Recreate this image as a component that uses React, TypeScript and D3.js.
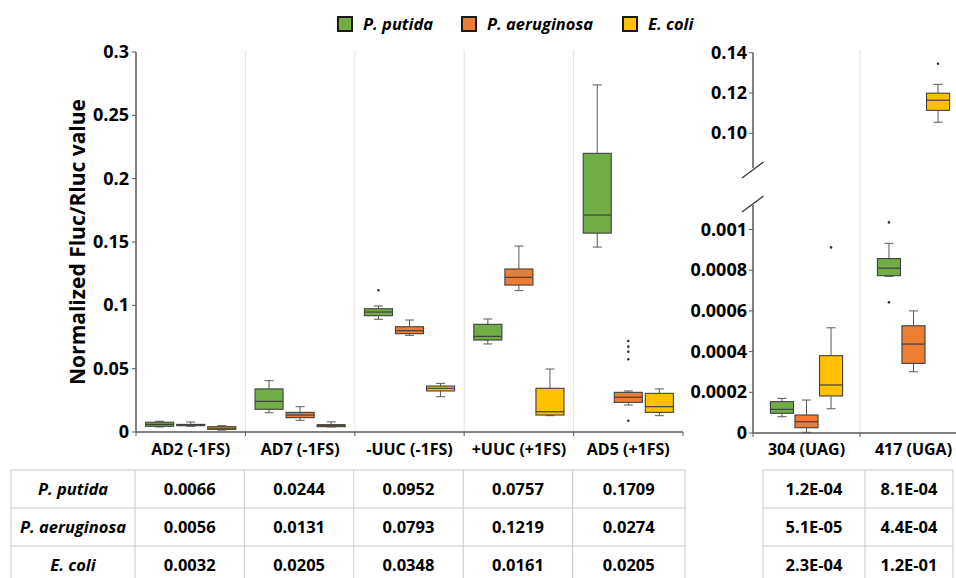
import React from "react";
import * as d3 from "d3";

const categoriesLeft = ["AD2 (-1FS)", "AD7 (-1FS)", "-UUC (-1FS)", "+UUC (+1FS)", "AD5 (+1FS)"];
const categoriesRight = ["304 (UAG)", "417 (UGA)"];
const species = ["P. putida", "P. aeruginosa", "E. coli"];
const speciesColors = ["#70AD47", "#ED7D31", "#FFC000"];

// [min, q1, median, q3, max]
const putidaLeft = [
  [0.004, 0.0045, 0.006, 0.0077, 0.0085],
  [0.0152, 0.0179, 0.0242, 0.034, 0.0405],
  [0.089, 0.0918, 0.0947, 0.0973, 0.0995],
  [0.0695, 0.0726, 0.0755, 0.085, 0.0892],
  [0.146, 0.157, 0.1713, 0.22, 0.274],
];
const aeruginosaLeft = [
  [0.0045, 0.005, 0.0055, 0.006, 0.0079],
  [0.0092, 0.0113, 0.0134, 0.0155, 0.02],
  [0.0763, 0.0776, 0.08, 0.0831, 0.0884],
  [0.1116, 0.116, 0.1221, 0.1287, 0.1468],
  [0.0213, 0.0234, 0.0274, 0.0313, 0.0324],
];
const coliLeft = [
  [0.0015, 0.0021, 0.003, 0.0042, 0.005],
  [0.004, 0.0042, 0.005, 0.0058, 0.008],
  [0.0279, 0.0324, 0.0345, 0.0363, 0.0384],
  [0.0129, 0.0134, 0.016, 0.0345, 0.0497],
  [0.0129, 0.0155, 0.02, 0.0305, 0.034],
];
const putidaLeftOutliers = [[], [], [0.1119], [], []];
const aeruginosaLeftOutliers = [[], [], [], [], [0.0718, 0.0674, 0.0634, 0.0574, 0.0089]];
const coliLeftOutliers = [[], [], [], [], []];

const putidaRight = [
  [0.00008, 0.0000968, 0.000116, 0.000154, 0.00017],
  [0.00077, 0.000773, 0.00081, 0.000857, 0.000932],
];
const aeruginosaRight = [
  [0.0000034, 0.000026, 0.0000555, 0.0000885, 0.000162],
  [0.000301, 0.000342, 0.000437, 0.000527, 0.0006],
];
const coliRight = [
  [0.000119, 0.000182, 0.000236, 0.00038, 0.000517],
  [0.1055, 0.1114, 0.1164, 0.1199, 0.1243],
];
const putidaRightOutliers = [[], [0.001035, 0.000642]];
const aeruginosaRightOutliers = [[], []];
const coliRightOutliers = [[0.000912], [0.1345]];

const leftTicks = [0, 0.05, 0.1, 0.15, 0.2, 0.25, 0.3];
const leftTickLabels = ["0", "0.05", "0.1", "0.15", "0.2", "0.25", "0.3"];
const rightLowTicks = [0, 0.0002, 0.0004, 0.0006, 0.0008, 0.001];
const rightLowTickLabels = ["0", "0.0002", "0.0004", "0.0006", "0.0008", "0.001"];
const rightHighTicks = [0.1, 0.12, 0.14];
const rightHighTickLabels = ["0.10", "0.12", "0.14"];

const tableLeftPutida = ["0.0066", "0.0244", "0.0952", "0.0757", "0.1709"];
const tableLeftAeruginosa = ["0.0056", "0.0131", "0.0793", "0.1219", "0.0274"];
const tableLeftColi = ["0.0032", "0.0205", "0.0348", "0.0161", "0.0205"];
const tableRightPutida = ["1.2E-04", "8.1E-04"];
const tableRightAeruginosa = ["5.1E-05", "4.4E-04"];
const tableRightColi = ["2.3E-04", "1.2E-01"];

const FONT = "'Open Sans', 'DejaVu Sans', sans-serif";
const AXIS = "#595959";
const GRID = "#e3e3e3";
const OUTLINE = "#404040";

type BoxProps = { cx: number; w: number; s: number[]; out: number[]; y: (v: number) => number; fill: string };

function Box({ cx, w, s, out, y, fill }: BoxProps) {
  const [mn, q1, md, q3, mx] = s;
  const cap = 9;
  return (
    <g>
      <line x1={cx} x2={cx} y1={y(mx)} y2={y(q3)} stroke={AXIS} strokeWidth={1} />
      <line x1={cx} x2={cx} y1={y(q1)} y2={y(mn)} stroke={AXIS} strokeWidth={1} />
      <line x1={cx - cap / 2} x2={cx + cap / 2} y1={y(mx)} y2={y(mx)} stroke={AXIS} strokeWidth={1} />
      <line x1={cx - cap / 2} x2={cx + cap / 2} y1={y(mn)} y2={y(mn)} stroke={AXIS} strokeWidth={1} />
      <rect x={cx - w / 2} y={y(q3)} width={w} height={Math.max(1, y(q1) - y(q3))} fill={fill} stroke={OUTLINE} strokeWidth={1.1} />
      <line x1={cx - w / 2} x2={cx + w / 2} y1={y(md)} y2={y(md)} stroke={OUTLINE} strokeWidth={1.2} />
      {out.map((o, i) => (
        <circle key={i} cx={cx} cy={y(o)} r={1.3} fill="#333" />
      ))}
    </g>
  );
}

export default function App() {
  const W = 956, H = 578;
  const xLeft = d3.scaleBand<string>().domain(categoriesLeft).range([136, 683]);
  const innerLeft = d3.scaleBand<string>().domain(species).range([0, xLeft.bandwidth()]).paddingInner(0.097).paddingOuter(0.31);
  const yLeft = d3.scaleLinear().domain([0, 0.3]).range([432, 52]);

  const xRight = d3.scaleBand<string>().domain(categoriesRight).range([753, 967]);
  const innerRight = d3.scaleBand<string>().domain(species).range([0, xRight.bandwidth()]).paddingInner(0.06).paddingOuter(0.71);
  const yLow = d3.scaleLinear().domain([0, 0.001]).range([433, 229.5]);
  const yHigh = d3.scaleLinear().domain([0.1, 0.14]).range([133.3, 52.7]);
  const yLowTop = 205;
  const yHighBottom = 168;
  const yRight = (v: number) => (v > 0.05 ? yHigh(v) : yLow(v));

  const leftData = [putidaLeft, aeruginosaLeft, coliLeft];
  const leftOut = [putidaLeftOutliers, aeruginosaLeftOutliers, coliLeftOutliers];
  const rightData = [putidaRight, aeruginosaRight, coliRight];
  const rightOut = [putidaRightOutliers, aeruginosaRightOutliers, coliRightOutliers];

  const tableLeftRows = [tableLeftPutida, tableLeftAeruginosa, tableLeftColi];
  const tableRightRows = [tableRightPutida, tableRightAeruginosa, tableRightColi];
  const rowTops = [470, 508, 546, 584];
  const leftCols = [11, ...categoriesLeft.map((c) => xLeft(c)! - 1), 685];
  const rightCols = [763, 865, 953];

  const legendX = [338, 462, 623];

  const leftBoundaries = [...categoriesLeft.map((c) => xLeft(c)!), 683];
  const rightBoundaries = [...categoriesRight.map((c) => xRight(c)!), 967];

  return (
    <svg width={W} height={H} style={{ position: "absolute", left: 0, top: 0, background: "#fff" }} fontFamily={FONT}>
      <rect width={W} height={H} fill="#fff" />
      {/* Legend */}
      {species.map((s, i) => (
        <g key={s}>
          <rect x={legendX[i]} y={17} width={14} height={14} fill={speciesColors[i]} stroke="#1a1a1a" strokeWidth={2} />
          <text x={legendX[i] + 25} y={29.5} fontSize={16.5} fontWeight={700} fontStyle="italic" fill="#000">{s}</text>
        </g>
      ))}

      {/* Left panel gridlines */}
      {leftBoundaries.slice(1, -1).map((b, i) => (
        <line key={i} x1={b} x2={b} y1={50} y2={432} stroke={GRID} strokeWidth={1} />
      ))}
      {rightBoundaries.slice(1, -1).map((b, i) => (
        <line key={i} x1={b} x2={b} y1={50} y2={433} stroke={GRID} strokeWidth={1} />
      ))}

      {/* Left axes */}
      <line x1={136} x2={136} y1={yLeft(0.3)} y2={yLeft(0)} stroke={AXIS} strokeWidth={1.5} />
      <line x1={136} x2={683} y1={yLeft(0)} y2={yLeft(0)} stroke={AXIS} strokeWidth={1.5} />
      {leftTicks.map((t, i) => (
        <g key={t}>
          <line x1={132} x2={136} y1={yLeft(t)} y2={yLeft(t)} stroke={AXIS} strokeWidth={1} />
          <text x={129} y={yLeft(t) + 6} textAnchor="end" fontSize={18} fontWeight={700} fill="#000">{leftTickLabels[i]}</text>
        </g>
      ))}
      {leftBoundaries.map((b, i) => (
        <line key={i} x1={b} x2={b} y1={432} y2={436} stroke={AXIS} strokeWidth={1} />
      ))}
      {categoriesLeft.map((c) => (
        <text key={c} x={xLeft(c)! + xLeft.bandwidth() / 2} y={455} textAnchor="middle" fontSize={16} fontWeight={700} fill="#000">{c}</text>
      ))}
      <text transform={`translate(85,242) rotate(-90)`} textAnchor="middle" fontSize={21} fontWeight={700} fill="#000">Normalized Fluc/Rluc value</text>

      {/* Left boxes */}
      {categoriesLeft.map((c, ci) =>
        species.map((s, si) => (
          <Box key={c + s} cx={xLeft(c)! + innerLeft(s)! + innerLeft.bandwidth() / 2} w={innerLeft.bandwidth()} s={leftData[si][ci]} out={leftOut[si][ci]} y={yLeft} fill={speciesColors[si]} />
        ))
      )}

      {/* Right axes */}
      <line x1={753} x2={753} y1={yHigh(0.14)} y2={yHighBottom} stroke={AXIS} strokeWidth={1.5} />
      <line x1={753} x2={753} y1={yLowTop} y2={yLow(0)} stroke={AXIS} strokeWidth={1.5} />
      <line x1={742} x2={763.5} y1={178} y2={162} stroke="#333" strokeWidth={1.3} />
      <line x1={742} x2={763.5} y1={212} y2={196} stroke="#333" strokeWidth={1.3} />
      <line x1={753} x2={967} y1={yLow(0)} y2={yLow(0)} stroke={AXIS} strokeWidth={1.5} />
      {rightHighTicks.map((t, i) => (
        <g key={t}>
          <line x1={749} x2={753} y1={yHigh(t)} y2={yHigh(t)} stroke={AXIS} strokeWidth={1} />
          <text x={747} y={yHigh(t) + 6} textAnchor="end" fontSize={18} fontWeight={700} fill="#000">{rightHighTickLabels[i]}</text>
        </g>
      ))}
      {rightLowTicks.map((t, i) => (
        <g key={t}>
          <line x1={749} x2={753} y1={yLow(t)} y2={yLow(t)} stroke={AXIS} strokeWidth={1} />
          <text x={747} y={yLow(t) + 6} textAnchor="end" fontSize={18} fontWeight={700} fill="#000">{rightLowTickLabels[i]}</text>
        </g>
      ))}
      {rightBoundaries.map((b, i) => (
        <line key={i} x1={b} x2={b} y1={433} y2={437} stroke={AXIS} strokeWidth={1} />
      ))}
      {categoriesRight.map((c) => (
        <text key={c} x={xRight(c)! + xRight.bandwidth() / 2} y={455} textAnchor="middle" fontSize={16} fontWeight={700} fill="#000">{c}</text>
      ))}
      {categoriesRight.map((c, ci) =>
        species.map((s, si) => (
          <Box key={c + s} cx={xRight(c)! + innerRight(s)! + innerRight.bandwidth() / 2} w={innerRight.bandwidth()} s={rightData[si][ci]} out={rightOut[si][ci]} y={yRight} fill={speciesColors[si]} />
        ))
      )}

      {/* Tables */}
      <g stroke="#c8c8c8" strokeWidth={1}>
        {rowTops.slice(0, 3).map((r) => (
          <line key={"l" + r} x1={leftCols[0]} x2={leftCols[leftCols.length - 1]} y1={r} y2={r} />
        ))}
        {leftCols.map((c) => (
          <line key={"lc" + c} x1={c} x2={c} y1={rowTops[0]} y2={H} />
        ))}
        {rowTops.slice(0, 3).map((r) => (
          <line key={"r" + r} x1={rightCols[0]} x2={rightCols[rightCols.length - 1]} y1={r} y2={r} />
        ))}
        {rightCols.map((c) => (
          <line key={"rc" + c} x1={c} x2={c} y1={rowTops[0]} y2={H} />
        ))}
      </g>
      {species.map((s, ri) => {
        const cy = (rowTops[ri] + rowTops[ri + 1]) / 2 + 6;
        return (
          <g key={s}>
            <text x={(leftCols[0] + leftCols[1]) / 2} y={cy} textAnchor="middle" fontSize={16.5} fontWeight={700} fontStyle="italic" fill="#000">{s}</text>
            {tableLeftRows[ri].map((v, ci) => (
              <text key={ci} x={(leftCols[ci + 1] + leftCols[ci + 2]) / 2} y={cy} textAnchor="middle" fontSize={16.5} fontWeight={700} fill="#000">{v}</text>
            ))}
            {tableRightRows[ri].map((v, ci) => (
              <text key={"r" + ci} x={(rightCols[ci] + rightCols[ci + 1]) / 2} y={cy} textAnchor="middle" fontSize={16.5} fontWeight={700} fill="#000">{v}</text>
            ))}
          </g>
        );
      })}
    </svg>
  );
}
